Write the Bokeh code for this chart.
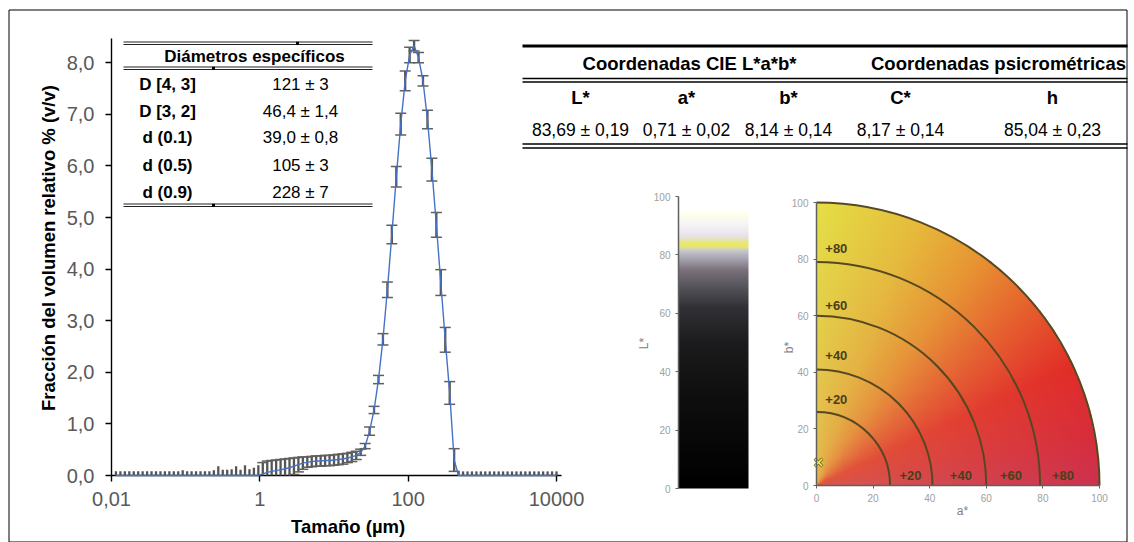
import numpy as np
from bokeh.plotting import figure
from bokeh.models import (Range1d, FixedTicker, CustomJSTickFormatter, LogScale,
                          LogAxis, LinearAxis)
from bokeh.core.properties import value
from bokeh.embed import file_html
from bokeh.resources import INLINE

# ---------------- data ----------------
sizes_um = [0.01148, 0.01318, 0.01514, 0.01738, 0.01995, 0.02291, 0.02630, 0.03020,
            0.03467, 0.03981, 0.04571, 0.05248, 0.06026, 0.06918, 0.07943, 0.09120,
            0.1047, 0.1202, 0.1380, 0.1585, 0.1820, 0.2089, 0.2399, 0.2754, 0.3162,
            0.3631, 0.4169, 0.4786, 0.5495, 0.6310, 0.7244, 0.8318, 0.9550,
            1.096, 1.259, 1.445, 1.660, 1.905, 2.188, 2.512, 2.884, 3.311, 3.802,
            4.365, 5.012, 5.754, 6.607, 7.586, 8.710,
            10.00, 11.48, 13.18, 15.14, 17.38, 19.95, 22.91, 26.30, 30.20, 34.67,
            39.81, 45.71, 52.48, 60.26, 69.18, 79.43, 91.20,
            104.7, 120.2, 138.0, 158.5, 182.0, 208.9, 239.9, 275.4, 316.2, 363.1,
            416.9, 478.6, 549.5, 631.0, 724.4, 831.8, 955.0,
            1096, 1259, 1445, 1660, 1905, 2188, 2512, 2884, 3311, 3802, 4365, 5012,
            5754, 6607, 7586, 8710, 10000]

volume_pct = [0.0] * 33 + [
    0.03, 0.06, 0.08, 0.10, 0.11, 0.13, 0.15, 0.18, 0.21, 0.24, 0.26, 0.27,
    0.28, 0.28, 0.29, 0.29, 0.30, 0.31, 0.32, 0.34, 0.36, 0.39, 0.45, 0.57,
    0.86, 1.27, 1.86, 2.64, 3.60, 4.67, 5.79, 6.81, 7.65, 8.15, 8.33, 8.10,
    7.65, 6.90, 5.93, 4.86, 3.74, 2.63, 1.60, 0.30] + [0.0] * 23

std_pct = [0.08] * 15 + [0.10] + [0.08] * 6 + [
    0.10, 0.18, 0.11, 0.11, 0.12, 0.18, 0.11, 0.20, 0.12, 0.15, 0.20,
    0.22, 0.22, 0.21, 0.20, 0.20, 0.19, 0.18, 0.16, 0.14, 0.12, 0.10, 0.10,
    0.10, 0.10, 0.10, 0.10, 0.10, 0.10, 0.10, 0.09, 0.09, 0.08, 0.06, 0.05,
    0.08, 0.07, 0.08, 0.11, 0.15, 0.18, 0.20, 0.21, 0.19, 0.15, 0.10, 0.10,
    0.10, 0.18, 0.22, 0.24, 0.25, 0.24, 0.22, 0.22] + [0.08] * 23

x_tick_values = [0.01, 1, 100, 10000]
y_tick_values = [0, 1, 2, 3, 4, 5, 6, 7, 8]

diam_header = "Diámetros específicos"
diam_labels = ["D [4, 3]", "D [3, 2]", "d (0.1)", "d (0.5)", "d (0.9)"]
diam_values = ["121 ± 3", "46,4 ± 1,4", "39,0 ± 0,8", "105 ± 3", "228 ± 7"]

cie_headers = ["Coordenadas CIE L*a*b*", "Coordenadas psicrométricas"]
cie_columns = ["L*", "a*", "b*", "C*", "h"]
cie_values = ["83,69 ± 0,19", "0,71 ± 0,02", "8,14 ± 0,14", "8,17 ± 0,14", "85,04 ± 0,23"]

sample_a = [0.71]
sample_b = [8.14]
chroma_arcs = [26, 41, 60, 79, 100]
arc_labels = ["+80", "+60", "+40", "+20", "+20", "+40", "+60", "+80"]
lab_ticks = [0, 20, 40, 60, 80, 100]

# colour stops of the two CIE pictures
L_stops = [0, 30, 50, 62, 70, 75, 79, 81.5, 82.6, 83.7, 84.8, 86.5, 90, 94, 95.5, 100]
L_red = [0, 14, 28, 50, 90, 125, 170, 200, 225, 238, 228, 232, 246, 255, 255, 255]
L_grn = [0, 14, 28, 50, 88, 115, 168, 200, 225, 236, 228, 226, 243, 255, 255, 255]
L_blu = [0, 14, 30, 54, 96, 125, 180, 205, 150, 80, 160, 235, 246, 235, 255, 255]

hue_deg = [0, 10, 25, 40, 55, 70, 90]
hue_red = [205, 215, 226, 230, 232, 230, 228]
hue_grn = [50, 45, 45, 95, 150, 190, 224]
hue_blu = [80, 60, 40, 45, 50, 60, 70]
centre_rgb = [225, 140, 90]

# ---------------- layout (window pixels) ----------------
W, H = 1134, 542
PX0, PX1, PY0, PY1 = 0, W, 0, H
SANS = value("Liberation Sans")

# size chart: 0.01 at x=111, 10000 at x=556 ; 0 at y=475, 51.59 px per unit
DEC = 445 / 6.0
X0, Y0, YU = 111, 475, 51.59
size_rng = Range1d(10 ** (-2 - (X0 - PX0) / DEC), 10 ** (-2 + (PX1 - X0) / DEC))
vol_rng = Range1d(-(PY1 - Y0) / YU, (Y0 - PY0) / YU)
# L* bar: 0 at y=488, 100 at y=196
LY0, LU = 488, 2.92
L_rng = Range1d(-(PY1 - LY0) / LU, (LY0 - PY0) / LU)
# a*b* quadrant: origin at (816, 485), 2.83 px per unit
AX0, AY0, AU = 816, 485, 2.83
a_rng = Range1d(-(AX0 - PX0) / AU, (PX1 - AX0) / AU)
b_rng = Range1d(-(PY1 - AY0) / AU, (AY0 - PY0) / AU)

p = figure(width=W, height=H, x_range=Range1d(PX0, PX1), y_range=Range1d(PY1, PY0),
           x_axis_type=None, y_axis_type=None, output_backend="svg",
           toolbar_location=None, min_border=0)
p.background_fill_color = "white"
p.border_fill_color = "white"
p.outline_line_color = None
p.extra_x_ranges = {"size": size_rng, "a": a_rng}
p.extra_x_scales = {"size": LogScale()}
p.extra_y_ranges = {"vol": vol_rng, "L": L_rng, "b": b_rng}

# ---------------- size distribution ----------------
xax = LogAxis(x_range_name="size", y_range_name="vol", fixed_location=0,
              bounds=(0.01, 10 ** 4.0674),
              ticker=FixedTicker(ticks=x_tick_values),
              formatter=CustomJSTickFormatter(code="return String(tick).replace('.', ',')"))
yax = LinearAxis(x_range_name="size", y_range_name="vol", fixed_location=0.01,
                 bounds=(0, 8.47), ticker=FixedTicker(ticks=y_tick_values),
                 formatter=CustomJSTickFormatter(code="return tick.toFixed(1).replace('.', ',')"))
for ax in (xax, yax):
    ax.axis_line_color = "black"
    ax.axis_line_width = 1.4
    ax.major_tick_line_color = "black"
    ax.major_tick_line_width = 1.4
    ax.major_tick_out = 6
    ax.major_tick_in = 0
    ax.minor_tick_line_color = None
    ax.major_label_text_color = "#595959"
    ax.major_label_text_font = "Liberation Sans"
    ax.major_label_text_font_size = "20px"
    ax.level = "underlay"
xax.major_label_standoff = 10
yax.major_label_standoff = 11
p.add_layout(xax, "below")
p.add_layout(yax, "left")

lower = [max(0.0, v - e) for v, e in zip(volume_pct, std_pct)]
upper = [v + e for v, e in zip(volume_pct, std_pct)]
S = dict(x_range_name="size", y_range_name="vol")
p.segment(x0=sizes_um, y0=lower, x1=sizes_um, y1=upper,
          line_color="#555555", line_width=2.3, **S)
cap_top_x = [s for s, v in zip(sizes_um, volume_pct) if v > 0]
cap_top_y = [u for u, v in zip(upper, volume_pct) if v > 0]
cap_bot_x = [s for s, v, lo in zip(sizes_um, volume_pct, lower) if v > 0 and lo > 0]
cap_bot_y = [lo for v, lo in zip(volume_pct, lower) if v > 0 and lo > 0]
p.scatter(x=cap_top_x, y=cap_top_y, marker="dash", size=11,
          line_color="#606060", line_width=1.5, **S)
p.scatter(x=cap_bot_x, y=cap_bot_y, marker="dash", size=11,
          line_color="#606060", line_width=1.5, **S)
p.line(sizes_um, volume_pct, line_color="#4472C4", line_width=1.4, **S)

# ---------------- L* bar ----------------
NL = 400
Lrow = (np.arange(NL) + 0.5) / NL * 100
limg = np.empty((NL, 2), dtype=np.uint32)
lv = limg.view(dtype=np.uint8).reshape((NL, 2, 4))
for ci, ch in enumerate((L_red, L_grn, L_blu)):
    col = np.interp(Lrow, L_stops, ch).astype(np.uint8)
    lv[:, :, ci] = col[:, None]
lv[:, :, 3] = 255
p.image_rgba(image=[limg], x=678, y=0, dw=70, dh=100, y_range_name="L")
lax = LinearAxis(y_range_name="L", fixed_location=678, bounds=(0, 100),
                 ticker=FixedTicker(ticks=lab_ticks))
p.add_layout(lax, "left")

# ---------------- a*b* quadrant ----------------
NP = 300
gy, gx = np.mgrid[0:NP, 0:NP]
aa = (gx + 0.5) / NP * 100
bb = (gy + 0.5) / NP * 100
rr = np.hypot(aa, bb)
hh = np.degrees(np.arctan2(bb, aa))
tt = np.clip(1 - rr / 100, 0, 1) * 0.45
pimg = np.empty((NP, NP), dtype=np.uint32)
pv = pimg.view(dtype=np.uint8).reshape((NP, NP, 4))
for ci, (ch, mid) in enumerate(zip((hue_red, hue_grn, hue_blu), centre_rgb)):
    base = np.interp(hh, hue_deg, ch)
    pv[:, :, ci] = np.clip(base * (1 - tt) + mid * tt, 0, 255).astype(np.uint8)
pv[:, :, 3] = np.where(rr <= 100, 255, 0).astype(np.uint8)
AB = dict(x_range_name="a", y_range_name="b")
p.image_rgba(image=[pimg], x=0, y=0, dw=100, dh=100, **AB)
p.arc(x=[0] * len(chroma_arcs), y=[0] * len(chroma_arcs), radius=chroma_arcs,
      start_angle=0, end_angle=np.pi / 2, line_color="#564820", line_width=2, **AB)
p.text(x=[7, 7, 7, 7, 33.2, 51, 68.7, 87.1], y=[83.6, 63.6, 45.9, 30.3, 3.5, 3.5, 3.5, 3.5],
       text=arc_labels, text_font=SANS, text_font_style="bold", text_font_size="13px",
       text_color="#4a3f1a", text_align="center", text_baseline="middle", **AB)
p.scatter(sample_a, sample_b, marker="x", size=11, line_color="#6b6b20", line_width=3, **AB)
p.scatter(sample_a, sample_b, marker="x", size=10, line_color="#f2f24a", line_width=1.5, **AB)
aax = LinearAxis(x_range_name="a", y_range_name="b", fixed_location=0, bounds=(0, 100),
                 ticker=FixedTicker(ticks=lab_ticks))
bax = LinearAxis(x_range_name="a", y_range_name="b", fixed_location=0, bounds=(0, 100),
                 ticker=FixedTicker(ticks=lab_ticks))
p.add_layout(aax, "below")
p.add_layout(bax, "left")

for ax in (lax, aax, bax):
    ax.axis_line_color = "#606060"
    ax.axis_line_width = 1.5
    ax.major_tick_line_color = "#606060"
    ax.major_tick_out = 3
    ax.major_tick_in = 0
    ax.minor_tick_line_color = None
    ax.major_label_text_color = "#a0a0a0"
    ax.major_label_text_font = "Liberation Sans"
    ax.major_label_text_font_size = "10px"
    ax.major_label_standoff = 5

p.text(x=[643, 788], y=[343, 347], text=["L*", "b*"], angle=np.pi / 2,
       text_font=SANS, text_font_size="12px", text_color="#808080",
       text_align="center", text_baseline="middle")
p.text(x=[962], y=[510], text=["a*"], text_font=SANS, text_font_size="12px",
       text_color="#808080", text_align="center", text_baseline="middle")

# ---------------- tables, titles, frame ----------------
p.segment(x0=[8.5, 8.5, 1126.5, 8.5], y0=[9.5, 9.5, 9.5, 541.5],
          x1=[1126.5, 8.5, 1126.5, 1126.5], y1=[9.5, 541.5, 541.5, 541.5],
          line_color="black", line_width=1)

lt_y = [41.5, 44, 66.5, 69, 203.5, 206]
p.segment(x0=[123] * 6, y0=lt_y, x1=[372] * 6, y1=lt_y, line_color="#222222", line_width=1.1)
p.rect(x=[297, 213, 213], y=[42.7, 67.7, 204.7], width=3, height=3,
       fill_color="black", line_color=None)
p.text(x=[254], y=[55.7], text=[diam_header], text_font=SANS, text_font_style="bold",
       text_font_size="17px", text_align="center", text_baseline="middle")
row_y = [84, 110.7, 137.3, 164.5, 192]
p.text(x=[167] * 5, y=row_y, text=diam_labels, text_font=SANS, text_font_style="bold",
       text_font_size="17px", text_align="center", text_baseline="middle")
p.text(x=[300] * 5, y=row_y, text=diam_values, text_font=SANS,
       text_font_size="17px", text_align="center", text_baseline="middle")

p.segment(x0=[522], y0=[45.5], x1=[1127], y1=[45.5], line_color="black", line_width=3)
rt_y = [78, 81.5, 143.5, 147.5]
p.segment(x0=[522] * 4, y0=rt_y, x1=[1127] * 4, y1=rt_y, line_color="black", line_width=1.4)
p.text(x=[689, 998], y=[63, 63], text=cie_headers, text_font=SANS, text_font_style="bold",
       text_font_size="18.5px", text_align="center", text_baseline="middle")
col_x = [580, 686, 788, 900, 1052]
p.text(x=col_x, y=[97] * 5, text=cie_columns, text_font=SANS, text_font_style="bold",
       text_font_size="18.5px", text_align="center", text_baseline="middle")
p.text(x=col_x, y=[129] * 5, text=cie_values, text_font=SANS,
       text_font_size="17.5px", text_align="center", text_baseline="middle")

p.text(x=[347.6], y=[526], text=["Tamaño (µm)"], text_font=SANS, text_font_style="bold",
       text_font_size="18.5px", text_align="center", text_baseline="middle")
p.text(x=[48], y=[247.5], text=["Fracción del volumen relativo % (v/v)"], angle=np.pi / 2,
       text_font=SANS, text_font_style="bold", text_font_size="18.5px",
       text_align="center", text_baseline="middle")

with open("out.html", "w") as f:
    f.write(file_html(p, INLINE))
